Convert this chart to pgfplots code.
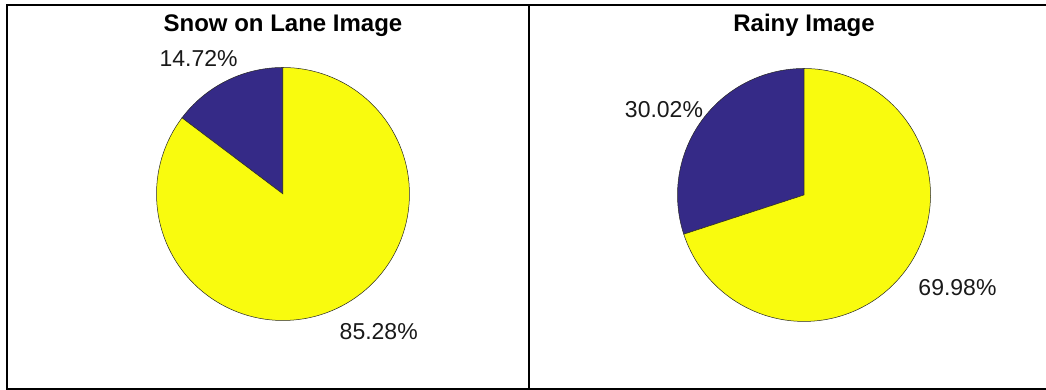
\documentclass[border=0pt]{standalone}
\usepackage{pgfplots}
\usepackage{pgfplotstable}
\pgfplotsset{compat=1.18}
\usepackage{fontspec}
\setmainfont{Liberation Sans}

% parula end colours
\definecolor{pieblue}{rgb}{0.2081,0.1663,0.5292}
\definecolor{pieyellow}{rgb}{0.9763,0.9831,0.0538}

% shares in percent (first slice starts at 12 o'clock, counter-clockwise)
\pgfplotstableread{
share
14.72
85.28
}\snowtab
\pgfplotstableread{
share
30.02
69.98
}\raintab

\tikzset{
  pct/.style={font=\fontsize{23}{27}\selectfont, text=black!90},
  ptitle/.style={font=\fontsize{24}{28}\selectfont\bfseries},
}
\newcommand{\pctof}[1]{\pgfmathprintnumber[fixed,precision=2,fixed zerofill,assume math mode=true]{#1}\%}

\begin{document}
\begin{tikzpicture}
\pgfplotstablegetelem{0}{share}\of\snowtab \let\snowA\pgfplotsretval
\pgfplotstablegetelem{1}{share}\of\snowtab \let\snowB\pgfplotsretval
\pgfplotstablegetelem{0}{share}\of\raintab \let\rainA\pgfplotsretval
\pgfplotstablegetelem{1}{share}\of\raintab \let\rainB\pgfplotsretval

\useasboundingbox (0pt,0pt) rectangle (1046pt,390pt);

\pgfplotsset{
  piebox/.style={
    scale only axis, height=384pt,
    xtick=\empty, ytick=\empty,
    axis line style={line width=2pt},
    clip=false, anchor=south west,
  },
  wedge/.style={draw=black!85, line width=0.5pt, samples=120, mark=none},
}

% Snow on Lane Image
\begin{axis}[piebox, at={(7pt,1pt)}, width=522pt,
    xmin=-2.182, xmax=1.945, ymin=-1.5415, ymax=1.494]
  \addplot[wedge, fill=pieblue, domain=90:90+3.6*\snowA]
    ({cos(x)},{sin(x)}) -- (axis cs:0,0) -- cycle;
  \addplot[wedge, fill=pieyellow, domain=90+3.6*\snowA:450]
    ({cos(x)},{sin(x)}) -- (axis cs:0,0) -- cycle;
  \node[ptitle] at (axis cs:0,1.333) {Snow on Lane Image};
  \node[pct] at (axis cs:-0.667,1.067) {\pctof{\snowA}};
  \node[pct] at (axis cs:0.757,-1.085) {\pctof{\snowB}};
\end{axis}

% Rainy Image
\begin{axis}[piebox, at={(529pt,1pt)}, width=520pt,
    xmin=-2.174, xmax=1.9367, ymin=-1.534, ymax=1.502]
  \addplot[wedge, fill=pieblue, domain=90:90+3.6*\rainA]
    ({cos(x)},{sin(x)}) -- (axis cs:0,0) -- cycle;
  \addplot[wedge, fill=pieyellow, domain=90+3.6*\rainA:450]
    ({cos(x)},{sin(x)}) -- (axis cs:0,0) -- cycle;
  \node[ptitle] at (axis cs:0,1.341) {Rainy Image};
  \node[pct] at (axis cs:-1.107,0.672) {\pctof{\rainA}};
  \node[pct] at (axis cs:1.213,-0.730) {\pctof{\rainB}};
\end{axis}
\end{tikzpicture}
\end{document}
